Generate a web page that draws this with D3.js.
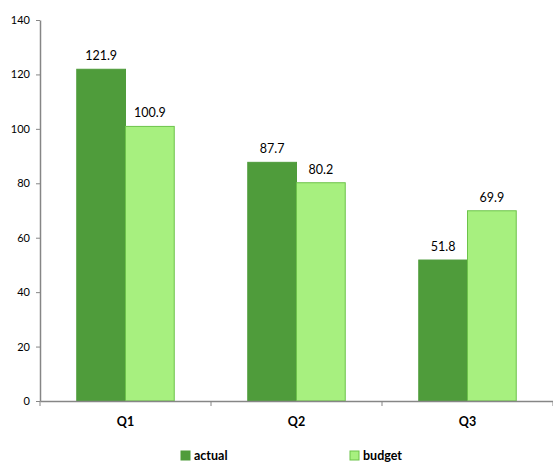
<!DOCTYPE html>
<html>
<head>
<meta charset="utf-8">
<script src="https://cdn.jsdelivr.net/npm/d3@7"></script>
<style>
  body { margin: 0; background: #fff; }
  text { font-family: Lato, "Open Sans", sans-serif; fill: #000; }
</style>
</head>
<body>
<svg width="553" height="462"></svg>
<script>
const quarters = ['Q1', 'Q2', 'Q3'];
const seriesNames = ['actual', 'budget'];
const actual = [121.9, 87.7, 51.8];
const budget = [100.9, 80.2, 69.9];
const yTicks = [0, 20, 40, 60, 80, 100, 120, 140];

const svg = d3.select('svg');
const margin = { top: 20, right: 0, bottom: 61, left: 40 };
const width = +svg.attr('width');
const height = +svg.attr('height');

const colors = { actual: '#4f9c3b', budget: '#a7f07f' };
const strokes = { actual: '#4f9c3b', budget: '#6cc34a' };

const x0 = d3.scaleBand()
  .domain(quarters)
  .range([margin.left, width - margin.right]);

const x1 = d3.scaleBand()
  .domain(seriesNames)
  .range([0, x0.bandwidth() * 0.57]);

const y = d3.scaleLinear()
  .domain([0, 140])
  .range([height - margin.bottom, margin.top]);

const rows = quarters.map((q, i) => ({ q, actual: actual[i], budget: budget[i] }));

// y axis
const yAxis = svg.append('g')
  .attr('transform', `translate(${margin.left},0)`)
  .call(d3.axisLeft(y).tickValues(yTicks).tickSize(4).tickPadding(6).tickSizeOuter(0));
yAxis.select('.domain').attr('stroke', '#868686').attr('stroke-width', 1.5);
yAxis.selectAll('.tick line').attr('stroke', '#868686');
yAxis.selectAll('.tick text').style('font-size', '11px').attr('fill', '#000');

// groups of bars
const offset = (x0.bandwidth() - x1.range()[1]) / 2;
const groups = svg.append('g')
  .selectAll('g')
  .data(rows)
  .join('g')
    .attr('transform', d => `translate(${x0(d.q) + offset},0)`);

groups.selectAll('rect')
  .data(d => seriesNames.map(k => ({ key: k, value: d[k] })))
  .join('rect')
    .attr('x', d => x1(d.key))
    .attr('y', d => y(d.value))
    .attr('width', x1.bandwidth())
    .attr('height', d => y(0) - y(d.value))
    .attr('fill', d => colors[d.key])
    .attr('stroke', d => strokes[d.key])
    .attr('stroke-width', 1);

groups.selectAll('text.val')
  .data(d => seriesNames.map(k => ({ key: k, value: d[k] })))
  .join('text')
    .attr('class', 'val')
    .attr('x', d => x1(d.key) + x1.bandwidth() / 2)
    .attr('y', d => y(d.value) - 9)
    .attr('text-anchor', 'middle')
    .style('font-size', '12.5px')
    .text(d => d.value.toFixed(1));

// x axis
const xAxis = svg.append('g')
  .attr('transform', `translate(0,${y(0)})`)
  .call(d3.axisBottom(x0).tickSize(0).tickPadding(16).tickSizeOuter(0));
xAxis.select('.domain').attr('stroke', '#868686').attr('stroke-width', 1.5);
xAxis.selectAll('.tick text').style('font-size', '12.5px').style('font-weight', 'bold').attr('fill', '#000');
// category separators
svg.append('g')
  .selectAll('line')
  .data(quarters.concat('end'))
  .join('line')
    .attr('x1', (d, i) => margin.left + i * x0.bandwidth())
    .attr('x2', (d, i) => margin.left + i * x0.bandwidth())
    .attr('y1', y(0))
    .attr('y2', y(0) + 5)
    .attr('stroke', '#868686');

// legend
const legendX = [181, 350];
const legend = svg.append('g')
  .selectAll('g')
  .data(seriesNames)
  .join('g')
    .attr('transform', (d, i) => `translate(${legendX[i]},451)`);
legend.append('rect')
  .attr('width', 9).attr('height', 9)
  .attr('fill', d => colors[d])
  .attr('stroke', d => strokes[d]);
legend.append('text')
  .attr('x', 13).attr('y', 9)
  .style('font-size', '12.5px')
  .style('font-weight', 'bold')
  .text(d => d);
</script>
</body>
</html>
